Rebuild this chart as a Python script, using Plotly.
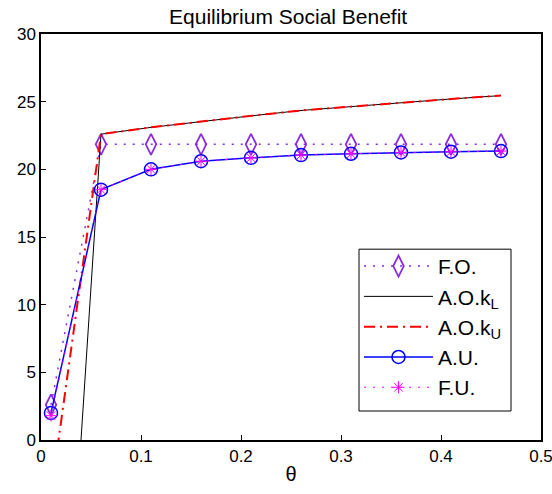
import plotly.graph_objects as go

theta = [0.01, 0.06, 0.11, 0.16, 0.21, 0.26, 0.31, 0.36, 0.41, 0.46]
fo = [2.6, 21.85, 21.85, 21.85, 21.85, 21.85, 21.85, 21.85, 21.85, 21.85]
ao_kl = [-33.9, 22.6, 23.1, 23.55, 23.95, 24.35, 24.65, 24.95, 25.2, 25.45]
ao_ku = [-4.0, 22.6, 23.1, 23.55, 23.95, 24.35, 24.65, 24.95, 25.2, 25.45]
au = [2.0, 18.5, 20.0, 20.6, 20.85, 21.05, 21.15, 21.25, 21.3, 21.35]
fu = [1.8, 18.5, 20.0, 20.6, 20.85, 21.05, 21.15, 21.25, 21.3, 21.35]

purple = "#8A2BE2"
fig = go.Figure()
fig.add_trace(go.Scatter(x=theta, y=fo, name="F.O.", mode="lines+markers",
                         line=dict(color=purple, dash="2px,7px", width=1.5),
                         marker=dict(symbol="diamond-tall-open", size=15, color=purple, line=dict(width=1.8))))
fig.add_trace(go.Scatter(x=theta, y=ao_kl, name="A.O.k<sub>L</sub>", mode="lines",
                         line=dict(color="black", width=1)))
fig.add_trace(go.Scatter(x=theta, y=ao_ku, name="A.O.k<sub>U</sub>", mode="lines",
                         line=dict(color="red", dash="11px,5px,2px,5px", width=2)))
fig.add_trace(go.Scatter(x=theta, y=au, name="A.U.", mode="lines+markers",
                         line=dict(color="blue", width=1.5),
                         marker=dict(symbol="circle-open", size=13, color="blue", line=dict(width=1.5))))
fig.add_trace(go.Scatter(x=theta, y=fu, name="F.U.", mode="lines+markers",
                         line=dict(color="magenta", dash="2px,7px", width=1),
                         marker=dict(symbol="asterisk-open", size=10, color="magenta", line=dict(width=1, color="magenta"))))

axis_common = dict(showline=True, linecolor="black", linewidth=1.5, mirror=True,
                   ticks="inside", ticklen=5, tickcolor="black", showgrid=False,
                   zeroline=False, automargin=False, ticklabeloverflow="allow",
                   tickfont=dict(size=17, color="black"))
fig.update_layout(
    width=552, height=494,
    margin=dict(l=41, r=11, t=34, b=54),
    paper_bgcolor="white", plot_bgcolor="white",
    font=dict(family="Liberation Sans, Arial, sans-serif", color="black"),
    title=dict(text="Equilibrium Social Benefit", x=0.522, xanchor="center", y=0.966, yanchor="middle",
               font=dict(size=21, color="black")),
    xaxis=dict(range=[0, 0.5], tickvals=[0, 0.1, 0.2, 0.3, 0.4, 0.5],
               ticktext=["0", "0.1", "0.2", "0.3", "0.4", "0.5"],
               title=dict(text="θ", font=dict(size=20), standoff=2), **axis_common),
    yaxis=dict(range=[0, 30], tickvals=[0, 5, 10, 15, 20, 25, 30], **axis_common),
    legend=dict(x=0.636, y=0.478, xanchor="left", yanchor="top",
                bgcolor="rgba(0,0,0,0)", borderwidth=0,
                font=dict(size=21, color="black"), tracegroupgap=0, itemwidth=69),
    shapes=[dict(type="rect", xref="paper", yref="paper", x0=0.636, x1=0.94, y0=0.0714, y1=0.470,
                 line=dict(color="black", width=1), fillcolor="white", layer="above")],
    showlegend=True,
)
fig.write_html("out.html", config={"displayModeBar": False},
               post_script="document.body.style.margin='0';")
